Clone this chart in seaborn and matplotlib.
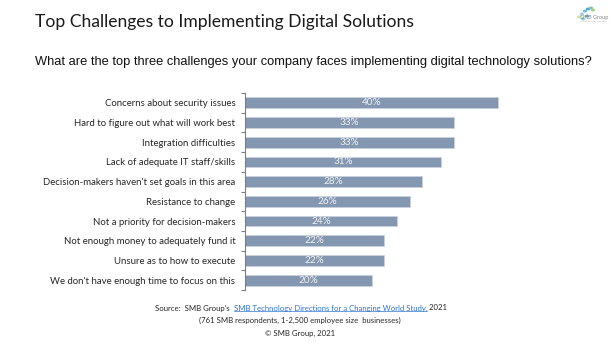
import matplotlib
matplotlib.use("Agg")
import matplotlib.pyplot as plt
import seaborn as sns
import pandas as pd
import numpy as np

categories = [
    "Concerns about security issues",
    "Hard to figure out what will work best",
    "Integration difficulties",
    "Lack of adequate IT staff/skills",
    "Decision-makers haven't set goals in this area",
    "Resistance to change",
    "Not a priority for decision-makers",
    "Not enough money to adequately fund it",
    "Unsure as to how to execute",
    "We don't have enough time to focus on this",
]
values = [40, 33, 33, 31, 28, 26, 24, 22, 22, 20]
value_labels = ["40%", "33%", "33%", "31%", "28%", "26%", "24%", "22%", "22%", "20%"]

title = "Top Challenges to Implementing Digital Solutions"
subtitle = "What are the top three challenges your company faces implementing digital technology solutions?"

sns.set_theme(style="white")
plt.rcParams['font.family'] = ['Lato', 'DejaVu Sans']

W, H = 616, 346
fig = plt.figure(figsize=(W / 100, H / 100), dpi=100)
fig.patch.set_facecolor("white")
fig.canvas.draw()
r = fig.canvas.get_renderer()


def fit_text(x, y, s, target_w, size, **kw):
    t = fig.text(x, y, s, fontsize=size, **kw)
    w = t.get_window_extent(renderer=r).width
    t.set_fontsize(size * target_w / w)
    return t


ax = fig.add_axes([245 / W, 1 - 290 / H, 285 / W, 197 / H])
df = pd.DataFrame({"cat": categories, "val": values})
sns.barplot(data=df, x="val", y="cat", orient="h", color="#8497B0",
            saturation=1, width=0.55, edgecolor="#C9D1DE", linewidth=0.6, ax=ax)
ax.set_xlim(0, 45)
ax.set_ylim(len(categories) - 0.5, -0.5)
ax.set_xlabel("")
ax.set_ylabel("")
ax.set_xticks([])
for s in ["top", "right", "bottom"]:
    ax.spines[s].set_visible(False)
ax.spines["left"].set_color("#7f7f7f")
ax.spines["left"].set_linewidth(0.8)
ax.set_yticks(np.arange(len(categories)))
ax.set_yticklabels(categories, fontsize=6.95, color="#262626")
ax.set_yticks(np.arange(-0.5, len(categories), 1.0), minor=True)
ax.tick_params(axis="y", which="major", length=0, pad=7)
ax.tick_params(axis="y", which="minor", length=3, width=0.8, color="#7f7f7f", left=True, direction="out")

for i, (v, lab) in enumerate(zip(values, value_labels)):
    ax.text(v / 2, i, lab, ha="center", va="center", fontsize=7.2, color="#f2f2f2")

fit_text(35 / W, 1 - 22 / H, title, 380, 14, color="#1a1a1a", va="center", ha="left",
         family=["Lato", "DejaVu Sans"])
fit_text(35 / W, 1 - 62 / H, subtitle, 557, 9.4, color="#111111", va="center", ha="left",
         family=["Liberation Sans", "DejaVu Sans"])

# footer
fs = 5.6
fy = 1 - 308 / H
t1 = fig.text(155 / W, fy, "Source:  SMB Group's  ", fontsize=fs, color="#262626", va="center", ha="left")
bb = t1.get_window_extent(renderer=r)
t2 = fig.text(bb.x1 / W, fy, "SMB Technology Directions for a Changing World Study,", fontsize=fs,
              color="#2E75D6", va="center", ha="left")
bb2 = t2.get_window_extent(renderer=r)
fig.add_artist(plt.Line2D([bb2.x0 / W, bb2.x1 / W], [(bb2.y0 + 0.5) / H, (bb2.y0 + 0.5) / H],
                          color="#2E75D6", linewidth=0.5, transform=fig.transFigure))
fig.text(bb2.x1 / W, fy, " 2021", fontsize=fs, color="#262626", va="center", ha="left")
fig.text(300 / W, 1 - 320 / H, "(761 SMB respondents, 1-2,500 employee size  businesses)", fontsize=fs,
         color="#262626", va="center", ha="center")
fig.text(300 / W, 1 - 333 / H, "\u00a9 SMB Group, 2021", fontsize=fs, color="#262626", va="center", ha="center")

# logo
fig.text(594 / W, 1 - 17 / H, "SMB Group", fontsize=4, color="#888888", va="center", ha="center")
fig.text(594 / W, 1 - 21.5 / H, "INSIGHTS  FOR  GROWTH", fontsize=1.6, color="#aaaaaa", va="center", ha="center")
dots_x = [582, 585, 588, 591, 593, 579, 583, 587]
dots_y = [14, 11, 9, 8, 10, 17, 19, 16]
dots_c = ["#9fd0e8", "#6cb8df", "#4aa7d8", "#7fc6a0", "#a3d47f", "#cfe8a0", "#8ccbe8", "#5ab0dc"]
for dx, dy, dc in zip(dots_x, dots_y, dots_c):
    fig.add_artist(plt.Circle((dx / W, 1 - dy / H), 0.0022, color=dc, transform=fig.transFigure))

fig.savefig("out.png", dpi=100, facecolor="white")
